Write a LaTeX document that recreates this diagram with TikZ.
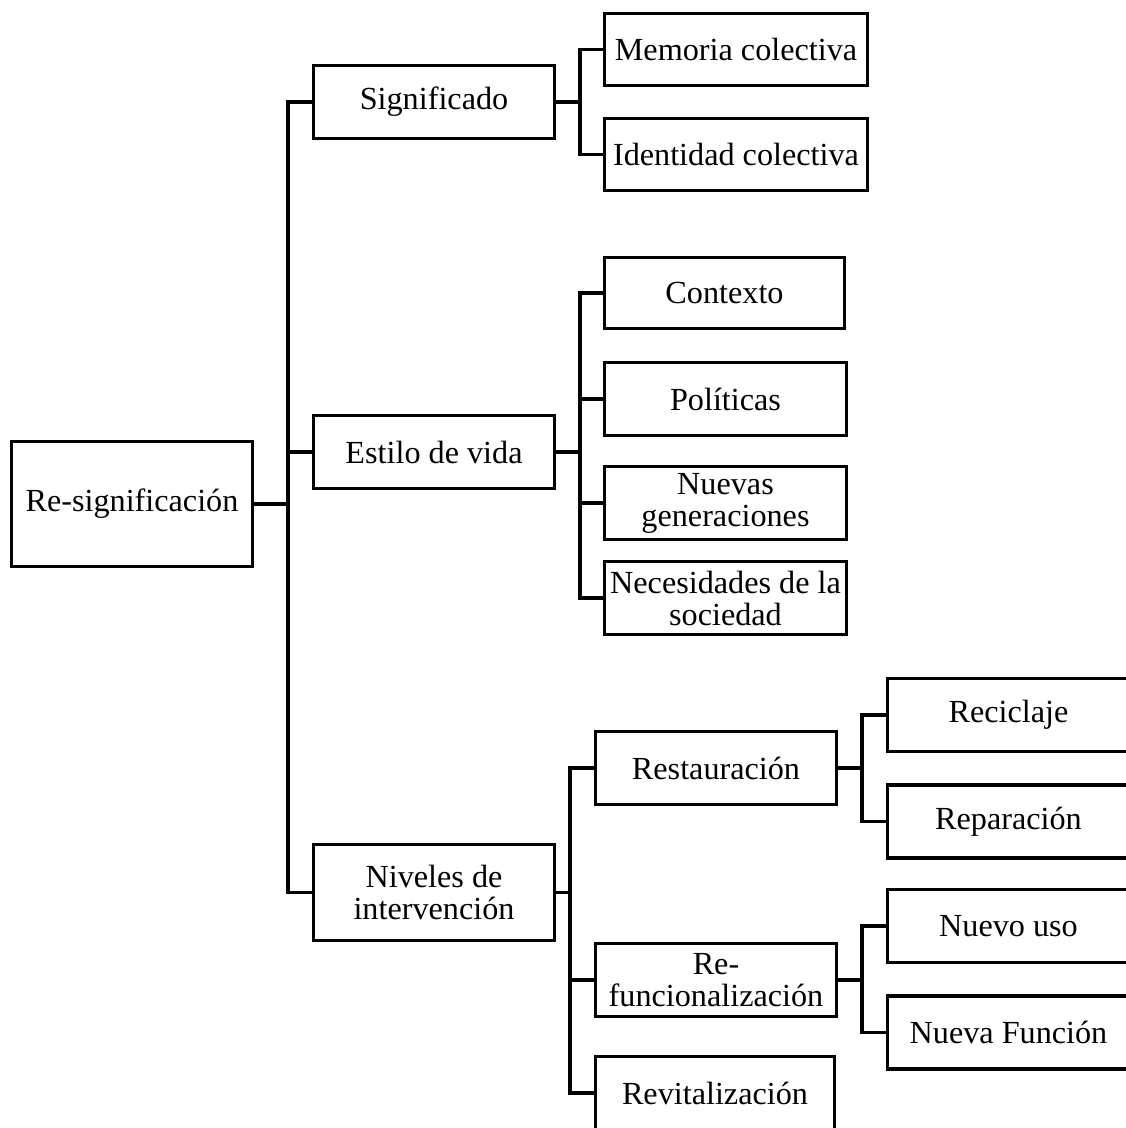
\documentclass[tikz,border=0pt]{standalone}
\usepackage{fontspec}
\setmainfont{Liberation Serif}
\begin{document}
\begin{tikzpicture}[x=1pt,y=-1pt,
  box/.style={draw, line width=3.2pt, inner sep=0pt, align=center,
    font=\fontsize{32.2}{32}\selectfont},
  conn/.style={line width=3.2pt}]
\clip (0,0) rectangle (1126,1128);
% level 0
\node[box, minimum width=241, minimum height=125] (root) at (132,504) {Re-significación};
% level 1
\node[box, minimum width=241, minimum height=73] (sig) at (434,102) {Significado};
\node[box, minimum width=241, minimum height=73] (est) at (434,452) {Estilo de vida};
\node[box, minimum width=241, minimum height=96] (niv) at (434,892.5) {Niveles de\\intervención};
% level 2
\node[box, minimum width=263, minimum height=72] (mem) at (736,49.5) {Memoria colectiva};
\node[box, minimum width=263, minimum height=72] (ide) at (736,154.5) {Identidad colectiva};
\node[box, minimum width=240, minimum height=71] (con) at (724.5,293) {Contexto};
\node[box, minimum width=242, minimum height=73] (pol) at (725.5,399) {Políticas};
\node[box, minimum width=242, minimum height=73] (nue) at (725.5,503) {Nuevas\\generaciones};
\node[box, minimum width=242, minimum height=73] (nec) at (725.5,598) {Necesidades de la\\sociedad};
\node[box, minimum width=241, minimum height=73] (res) at (716,768) {Restauración};
\node[box, minimum width=241, minimum height=73] (ref) at (716,980) {Re-\\funcionalización};
\node[box, minimum width=239, minimum height=73] (rev) at (715,1093) {Revitalización};
% level 3
\node[box, minimum width=242, minimum height=73] (rec) at (1008.5,715) {Reciclaje};
\node[box, minimum width=242, minimum height=73] (rep) at (1008.5,821.5) {Reparación};
\node[box, minimum width=242, minimum height=73] (nuso) at (1008.5,926) {Nuevo uso};
\node[box, minimum width=242, minimum height=73] (nfun) at (1008.5,1032.5) {Nueva Función};
% bus positions
\coordinate (b0) at (288,0);
\coordinate (b1) at (580,0);
\coordinate (b2) at (570,0);
\coordinate (b3) at (862,0);
% connectors
\draw[conn] (root.east) -- (root.east -| b0);
\draw[conn] (sig.west) -- (sig.west -| b0) -- (niv.west -| b0) -- (niv.west);
\draw[conn] (est.west) -- (est.west -| b0);
\draw[conn] (sig.east) -- (sig.east -| b1);
\draw[conn] (mem.west) -- (mem.west -| b1) -- (ide.west -| b1) -- (ide.west);
\draw[conn] (est.east) -- (est.east -| b1);
\draw[conn] (con.west) -- (con.west -| b1) -- (nec.west -| b1) -- (nec.west);
\draw[conn] (pol.west) -- (pol.west -| b1);
\draw[conn] (nue.west) -- (nue.west -| b1);
\draw[conn] (niv.east) -- (niv.east -| b2);
\draw[conn] (res.west) -- (res.west -| b2) -- (rev.west -| b2) -- (rev.west);
\draw[conn] (ref.west) -- (ref.west -| b2);
\draw[conn] (res.east) -- (res.east -| b3);
\draw[conn] (rec.west) -- (rec.west -| b3) -- (rep.west -| b3) -- (rep.west);
\draw[conn] (ref.east) -- (ref.east -| b3);
\draw[conn] (nuso.west) -- (nuso.west -| b3) -- (nfun.west -| b3) -- (nfun.west);
\end{tikzpicture}
\end{document}
